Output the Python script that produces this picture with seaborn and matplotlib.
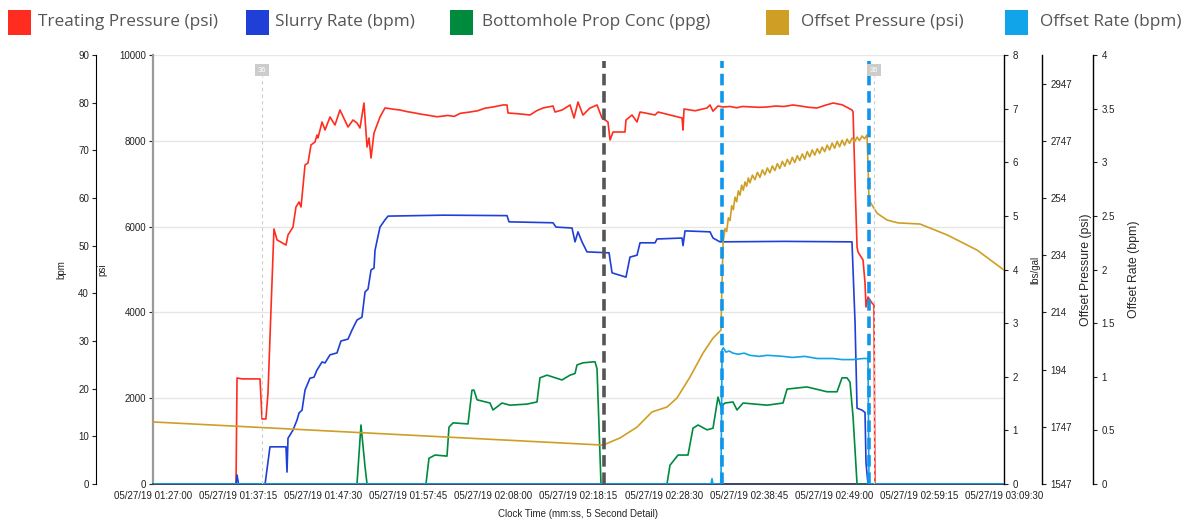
import pandas as pd
import seaborn as sns
import matplotlib.pyplot as plt
import matplotlib.transforms as mtransforms
from matplotlib.patches import Rectangle

# time axis: minutes after 05/27/19 01:27:00
tick_labels = ["05/27/19 01:27:00", "05/27/19 01:37:15", "05/27/19 01:47:30",
               "05/27/19 01:57:45", "05/27/19 02:08:00", "05/27/19 02:18:15",
               "05/27/19 02:28:30", "05/27/19 02:38:45", "05/27/19 02:49:00",
               "05/27/19 02:59:15", "05/27/19 03:09:30"]

# Treating Pressure (psi)
tp_time = [0, 10.0, 10.12, 10.72, 12.89, 13.13, 13.6, 13.85, 14.21, 14.57, 14.94, 16.02,
           16.26, 16.86, 17.22, 17.59, 17.83, 18.31, 18.67, 19.03, 19.51, 19.75, 19.87,
           20.36, 20.72, 21.32, 21.92, 22.52, 23.49, 24.09, 24.57, 24.93, 25.41, 25.78,
           26.02, 26.26, 26.62, 27.34, 27.94, 28.19, 29.0, 29.75, 30.6, 31.5, 32.3, 33.0,
           34.21, 35.5, 36.3, 37.0, 38.18, 39.1, 40.0, 41.0, 42.16, 42.64, 42.76, 44.0,
           45.41, 46.2, 46.98, 48.18, 48.42, 49.3, 50.23, 50.71, 51.19, 51.79, 52.6, 53.48,
           54.08, 54.8, 55.05, 55.41, 56.85, 56.97, 57.7, 58.3, 58.66, 59.5, 60.47, 60.83,
           62.3, 63.72, 63.84, 63.96, 65.3, 66.73, 67.09, 67.45, 68.05, 68.66, 69.5, 70.3,
           71.0, 72.0, 73.0, 73.96, 75.0, 76.0, 77.09, 78.0, 79.0, 79.98, 81.0, 81.92, 83.0,
           84.19, 84.32, 84.56, 84.8, 84.92, 85.52, 85.76, 85.88, 86.12, 86.6, 86.84, 86.96,
           102.5]
tp_psi = [0, 0, 2471, 2450, 2450, 1515, 1515, 2120, 4056, 5944, 5690, 5570,
          5804, 5990, 6457, 6573, 6457, 7436, 7483, 7903, 7972, 8135, 8065,
          8438, 8252, 8555, 8368, 8718, 8322, 8485, 8415, 8298, 8881, 7856,
          8065, 7599, 8182, 8555, 8765, 8760, 8735, 8718, 8680, 8650, 8620, 8600,
          8560, 8590, 8570, 8640, 8671, 8700, 8760, 8790, 8835, 8835, 8648, 8630,
          8602, 8700, 8765, 8811, 8671, 8720, 8835, 8532, 8904, 8600, 8760, 8835,
          8532, 8438, 8019, 8205, 8205, 8485, 8602, 8438, 8671, 8640, 8602, 8671,
          8600, 8532, 8250, 8741, 8700, 8765, 8835, 8690, 8811, 8788, 8800, 8770,
          8800, 8790, 8780, 8788, 8810, 8800, 8835, 8810, 8780, 8765, 8830, 8881, 8840,
          8718, 8671, 7016, 5525, 5408, 5221, 4685, 4126, 4359, 4219, 4172, 0,
          0]

# Slurry Rate (bpm)
sr_time = [0, 10.0, 10.12, 10.3, 13.5, 14.09, 16.02, 16.14, 16.26, 16.86, 17.34, 17.59,
           17.95, 18.31, 18.91, 19.39, 19.75, 20.36, 20.72, 21.32, 22.16, 22.64, 23.49,
           23.97, 24.57, 25.17, 25.54, 25.9, 26.26, 26.62, 26.74, 26.98, 27.34, 27.94,
           28.31, 35.0, 42.64, 42.88, 48.18, 48.54, 50.47, 50.83, 51.19, 51.67, 52.27,
           54.93, 55.29, 56.97, 57.21, 57.45, 58.3, 58.66, 60.47, 60.71, 63.72, 63.84,
           64.08, 67.09, 67.45, 68.29, 76.0, 84.19, 84.56, 84.8, 85.4, 85.76, 85.88,
           86.12, 102.5]
sr_bpm = [0, 0, 1.9, 0, 0, 7.8, 7.8, 2.5, 9.6, 11.3, 13.4, 14.9,
          15.5, 19.7, 22.2, 22.4, 23.9, 25.6, 25.4, 27.1, 27.5, 30.0, 30.4,
          32.3, 34.4, 35.0, 40.3, 40.9, 44.9, 45.3, 49.0, 51.0, 53.9, 55.4,
          56.2, 56.4, 56.3, 55.0, 54.8, 53.9, 53.7, 50.8, 52.9, 50.8, 48.7,
          48.5, 44.3, 43.4, 45.5, 47.6, 48.0, 50.6, 50.6, 51.4, 51.6, 50.0,
          53.1, 52.9, 51.6, 50.8, 50.9, 50.8, 33.8, 15.9, 15.5, 15.0, 4.4,
          0, 0]

# Bottomhole Prop Conc (lbs/gal)
bh_time = [0, 24.57, 25.05, 25.54, 25.78, 32.88, 33.24, 33.97, 35.41, 35.65, 36.14, 37.94,
           38.42, 38.66, 39.03, 40.59, 40.95, 42.04, 43.0, 45.05, 46.25, 46.61, 47.46,
           49.26, 50.23, 50.83, 51.07, 51.79, 53.24, 53.48, 53.96, 61.91, 62.27, 63.24,
           64.44, 65.04, 65.65, 66.73, 67.45, 68.05, 68.41, 68.9, 69.86, 70.34, 71.07,
           73.96, 75.88, 76.37, 78.77, 81.18, 82.39, 82.99, 83.59, 83.95, 84.32, 84.8,
           102.5]
bh_ppg = [0, 0, 1.10, 0.32, 0, 0, 0.48, 0.54, 0.52, 1.06, 1.14, 1.12,
          1.75, 1.75, 1.57, 1.51, 1.38, 1.51, 1.47, 1.49, 1.53, 1.98, 2.03,
          1.94, 2.03, 2.06, 2.22, 2.26, 2.28, 2.15, 0, 0, 0.35, 0.54,
          0.54, 1.04, 1.10, 1.01, 1.04, 1.62, 1.44, 1.51, 1.53, 1.38, 1.51,
          1.47, 1.51, 1.77, 1.81, 1.72, 1.72, 1.98, 1.98, 1.90, 1.25, 0,
          0]

# Offset Pressure (psi)
op_time = [0, 54.2, 56.25, 58.3, 60.1, 61.91, 63.12, 64.68, 66.25, 67.45, 68.41, 68.54,
           68.66, 68.9, 69.1, 69.3, 69.5, 69.7, 69.9, 70.1, 70.3, 70.5, 70.7, 70.9, 71.1,
           71.3, 71.5, 71.7, 71.9, 72.2, 72.5, 72.8, 73.1, 73.4, 73.7, 74.0, 74.3, 74.6,
           74.9, 75.2, 75.5, 75.8, 76.1, 76.4, 76.7, 77.0, 77.3, 77.6, 77.9, 78.2, 78.5,
           78.8, 79.1, 79.4, 79.7, 80.0, 80.3, 80.6, 80.9, 81.2, 81.5, 81.8, 82.1, 82.4,
           82.7, 83.0, 83.3, 83.6, 83.9, 84.2, 84.5, 84.8, 85.1, 85.4, 85.7, 86.0, 86.12,
           86.24, 87.2, 88.41, 89.73, 92.38, 95.64, 99.25, 102.5]
op_psi = [1764, 1683, 1708, 1746, 1799, 1816, 1848, 1921, 2005, 2057, 2085, 2250,
          2390, 2440, 2430, 2478, 2468, 2520, 2506, 2550, 2534, 2572, 2557, 2592, 2574,
          2603, 2588, 2617, 2600, 2627, 2611, 2637, 2619, 2645, 2628, 2652, 2635, 2659,
          2643, 2667, 2650, 2675, 2658, 2682, 2665, 2689, 2671, 2695, 2678, 2701, 2683,
          2709, 2691, 2715, 2697, 2719, 2703, 2725, 2709, 2732, 2715, 2739, 2721, 2745,
          2726, 2749, 2731, 2753, 2738, 2757, 2743, 2760, 2748, 2764, 2754, 2768, 2669,
          2540, 2494, 2470, 2460, 2456, 2418, 2365, 2295]

# Offset Rate (bpm)
or_time = [0, 67.2, 67.33, 67.45, 68.41, 68.54, 68.7, 69.0, 69.4, 69.86, 70.5, 71.2,
           71.91, 73.0, 74.0, 75.88, 77.0, 78.5, 80.0, 81.92, 83.0, 84.32, 85.5, 86.12,
           86.24, 102.5]
or_bpm = [0, 0, 0.05, 0, 0, 1.25, 1.27, 1.23, 1.24, 1.22, 1.21, 1.22,
          1.20, 1.19, 1.20, 1.19, 1.18, 1.19, 1.17, 1.17, 1.16, 1.16, 1.17, 1.17,
          0, 0]

series_names = ["Treating Pressure (psi)", "Slurry Rate (bpm)", "Bottomhole Prop Conc (ppg)",
                "Offset Pressure (psi)", "Offset Rate (bpm)"]
series_colors = ["#ff2d1f", "#1f3fd6", "#008a3e", "#cf9f25", "#12a4e8"]

# event markers
stage_lines = [54.32]
offset_lines = [68.54, 86.24]
note_lines = [13.13, 86.84]
note_text = "36"

sns.set_style("white")
plt.rcParams['font.family'] = ['Liberation Sans', 'DejaVu Sans']

W, H = 1189, 527
fig = plt.figure(figsize=(W / 100, H / 100), dpi=100)
ax = fig.add_axes([153 / W, 1 - 484 / H, 851 / W, 429 / H])

start = pd.to_datetime(tick_labels[0], format="%m/%d/%y %H:%M:%S")
tick_pos = [(pd.to_datetime(t, format="%m/%d/%y %H:%M:%S") - start).total_seconds() / 60
            for t in tick_labels]

ax_bpm = ax.twinx()
ax_lbs = ax.twinx()
ax_op = ax.twinx()
ax_or = ax.twinx()

lw = 1.2
sns.lineplot(x=tp_time, y=tp_psi, ax=ax, color=series_colors[0], lw=lw, estimator=None, sort=False)
sns.lineplot(x=sr_time, y=sr_bpm, ax=ax_bpm, color=series_colors[1], lw=lw, estimator=None, sort=False)
sns.lineplot(x=bh_time, y=bh_ppg, ax=ax_lbs, color=series_colors[2], lw=lw, estimator=None, sort=False)
sns.lineplot(x=op_time, y=op_psi, ax=ax_op, color=series_colors[3], lw=lw, estimator=None, sort=False)
sns.lineplot(x=or_time, y=or_bpm, ax=ax_or, color=series_colors[4], lw=lw, estimator=None, sort=False)

ax.set_xlim(tick_pos[0], tick_pos[-1])
ax.set_ylim(0, 10000)
ax.set_yticks(range(0, 10001, 2000))
ax.grid(axis='y', color='#e6e6e6', lw=1)
ax.grid(axis='x', visible=False)
ax.set_xticks(tick_pos)
ax.set_xticklabels(tick_labels)
ax.set_xlabel("Clock Time (mm:ss, 5 Second Detail)", fontsize=7, labelpad=6)
ax.set_ylabel("psi", fontsize=7)
ax.yaxis.set_label_coords(-0.054, 0.5)

ax_bpm.set_ylim(0, 90)
ax_bpm.set_yticks(range(0, 91, 10))
ax_bpm.yaxis.set_ticks_position('left')
ax_bpm.yaxis.set_label_position('left')
ax_bpm.spines['left'].set_position(('axes', -0.067))
ax_bpm.set_ylabel("bpm", fontsize=7)
ax_bpm.yaxis.set_label_coords(-0.102, 0.5)

ax_lbs.set_ylim(0, 8)
ax_lbs.set_yticks(range(0, 9))
ax_lbs.set_ylabel("lbs/gal", fontsize=7)
ax_lbs.yaxis.set_label_coords(1.031, 0.5)

op_ticks = [1547, 1747, 1947, 2147, 2347, 2547, 2747, 2947]
op_labels = ["1547", "1747", "194", "214", "234", "254", "2747", "2947"]
ax_op.set_ylim(1547, 3047)
ax_op.set_yticks(op_ticks)
ax_op.set_yticklabels(op_labels)
ax_op.spines['right'].set_position(('axes', 1.0447))
ax_op.set_ylabel("Offset Pressure (psi)", fontsize=8.8)
ax_op.yaxis.set_label_coords(1.089, 0.5)

or_ticks = [0, 0.5, 1, 1.5, 2, 2.5, 3, 3.5, 4]
ax_or.set_ylim(0, 4)
ax_or.set_yticks(or_ticks)
ax_or.set_yticklabels(["0", "0.5", "1", "1.5", "2", "2.5", "3", "3.5", "4"])
ax_or.spines['right'].set_position(('axes', 1.1046))
ax_or.set_ylabel("Offset Rate (bpm)", fontsize=8.8)
ax_or.yaxis.set_label_coords(1.146, 0.5)

for a in [ax, ax_bpm, ax_lbs, ax_op, ax_or]:
    for s in ['top', 'right', 'left', 'bottom']:
        a.spines[s].set_visible(False)
    a.tick_params(axis='both', labelsize=7, length=3, width=0.8, pad=2, colors='#222222')

ax.spines['left'].set_visible(True)
ax.spines['left'].set_color('#9a9a9a')
ax.spines['left'].set_linewidth(1.6)
ax.spines['bottom'].set_visible(True)
ax.spines['bottom'].set_color('#1a2450')
ax.spines['bottom'].set_linewidth(1.2)
ax_bpm.spines['left'].set_visible(True)
ax_bpm.spines['left'].set_color('black')
for a in [ax_lbs, ax_op, ax_or]:
    a.spines['right'].set_visible(True)
    a.spines['right'].set_color('black')
    a.spines['right'].set_linewidth(1.0)
    a.tick_params(axis='y', pad=3)

# markers
trans = mtransforms.blended_transform_factory(ax_or.transData, ax_or.transAxes)
for xv in note_lines:
    ax_or.axvline(xv, ymin=0, ymax=0.95, color='#cccccc', lw=0.8, ls=(0, (3, 3)))
    ax_or.text(xv, 0.965, note_text, transform=trans, ha='center', va='center', fontsize=5.5,
               color='white', bbox=dict(boxstyle='square,pad=0.3', fc='#cccccc', ec='none'))
for xv in stage_lines:
    ax_or.axvline(xv, ymin=0, ymax=0.985, color='#555555', lw=2.6, ls=(0, (3.2, 1.6)))
for xv in offset_lines:
    ax_or.axvline(xv, ymin=0, ymax=0.985, color='#0d96ea', lw=2.6, ls=(0, (3.2, 1.6)))

# legend across the top
sq_x = [8, 246, 450, 766, 1005]
txt_x = [38, 275, 482, 801, 1040]
for name, col, sx, tx in zip(series_names, series_colors, sq_x, txt_x):
    fig.patches.append(Rectangle((sx / W, 1 - 35 / H), 23 / W, 25 / H, transform=fig.transFigure,
                                 facecolor=col, edgecolor='none'))
    fig.text(tx / W, 1 - 22 / H, name, fontsize=12.4, color='#555555', va='center', ha='left',
             family=['Open Sans', 'DejaVu Sans'])

fig.savefig("out.png", dpi=100)
